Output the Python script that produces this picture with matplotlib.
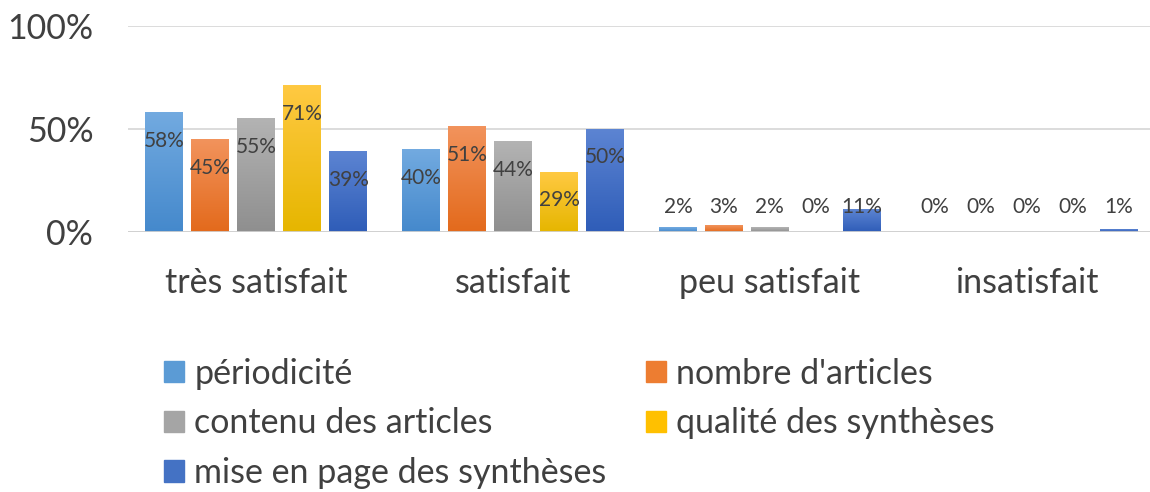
import numpy as np
import matplotlib.pyplot as plt
from matplotlib.colors import LinearSegmentedColormap
from matplotlib.patches import Rectangle

plt.rcParams['font.family'] = ['Lato', 'DejaVu Sans']

categories = ['très satisfait', 'satisfait', 'peu satisfait', 'insatisfait']
series = ['périodicité', "nombre d'articles", 'contenu des articles',
          'qualité des synthèses', 'mise en page des synthèses']
values = [
    [58, 40, 2, 0],   # périodicité
    [45, 51, 3, 0],   # nombre d'articles
    [55, 44, 2, 0],   # contenu des articles
    [71, 29, 0, 0],   # qualité des synthèses
    [39, 50, 11, 1],  # mise en page des synthèses
]
# (top, bottom) colours of the gradient fills
colors_top = ['#72AAE0', '#F2935C', '#B3B3B3', '#FFC942', '#5C84D2']
colors_bot = ['#4589CC', '#E36A1C', '#8F8F8F', '#E6B600', '#2F5DB8']
colors_mid = ['#5B9BD5', '#ED7D31', '#A5A5A5', '#FFC000', '#4472C4']

fig = plt.figure(figsize=(11.5, 4.92), dpi=100)
ax = fig.add_axes([128/1150, 1-232/492, 1027/1150, 206/492])

x = np.arange(len(categories))
bw = 0.148
pitch = 0.179

for i, s in enumerate(series):
    v = np.array(values[i]) / 100
    xs = x + (i - 2) * pitch
    cmap = LinearSegmentedColormap.from_list('g%d' % i, [colors_bot[i], colors_top[i]])
    grad = np.linspace(0, 1, 64).reshape(-1, 1)
    for xi, vi, raw in zip(xs, v, values[i]):
        if vi > 0:
            ax.imshow(grad, cmap=cmap, origin='lower', aspect='auto',
                      extent=[xi - bw/2, xi + bw/2, 0, vi], zorder=2)
        ly = max(vi - 0.137, 0.121)
        ax.text(xi, ly, '%d%%' % raw, ha='center', va='center',
                fontsize=15, color='#404040', zorder=4)

ax.set_xlim(-0.5, 3.5)
ax.set_ylim(0, 1)
ax.set_yticks([0, 0.5, 1])
ax.set_yticklabels(['0%', '50%', '100%'])
ax.set_xticks(x)
ax.set_xticklabels(categories)
ax.tick_params(axis='both', length=0, labelsize=24.5, colors='#404040')
ax.tick_params(axis='x', pad=25.5)
ax.tick_params(axis='y', pad=25)
ax.grid(axis='y', color='#D9D9D9', linewidth=1.3, zorder=0)
ax.axhline(0, color='#D0D0D0', linewidth=2, zorder=3)
for sp in ax.spines.values():
    sp.set_visible(False)

# legend is filled row by row in the original
order = [0, 2, 4, 1, 3]
handles = [Rectangle((0, 0), 1, 1, color=colors_mid[k]) for k in order]
fig.legend(handles, [series[k] for k in order], loc='upper left',
           bbox_to_anchor=(133/1150, 1-327/492),
           ncol=2, frameon=False, fontsize=24.5, handlelength=0.6, handleheight=0.6,
           handletextpad=0.3, columnspacing=1.15, labelspacing=0.52,
           labelcolor='#404040')

fig.savefig('out.png', dpi=100)
